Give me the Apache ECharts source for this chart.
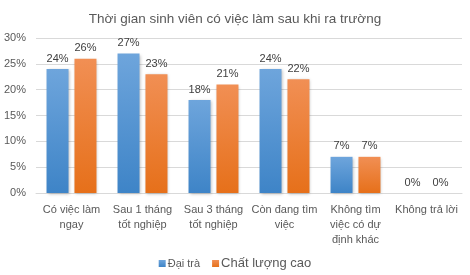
<!DOCTYPE html>
<html><head><meta charset="utf-8">
<script src="https://cdn.jsdelivr.net/npm/echarts@6/dist/echarts.min.js"></script>
<style>html,body{margin:0;padding:0;background:#fff}#c{width:470px;height:275px}</style>
</head><body><div id="c"></div>
<script>
const categories = ["Có việc làm\nngay", "Sau 1 tháng\ntốt nghiệp", "Sau 3 tháng\ntốt nghiệp", "Còn đang tìm\nviệc", "Không tìm\nviệc có dự\nđịnh khác", "Không trả lời"];
const daiTra = [24, 27, 18, 24, 7, 0];
const chatLuongCao = [26, 23, 21, 22, 7, 0];
const yTicks = [0, 5, 10, 15, 20, 25, 30];

const font = "Liberation Sans, Arial, sans-serif";
function grad(top, bottom) {
  return new echarts.graphic.LinearGradient(0, 0, 0, 1, [{offset: 0, color: top}, {offset: 1, color: bottom}]);
}
const chart = echarts.init(document.getElementById('c'), null, {renderer: 'canvas'});
chart.setOption({
  animation: false,
  title: {
    text: "Thời gian sinh viên có việc làm sau khi ra trường",
    left: 'center', top: 7,
    textStyle: {fontFamily: font, fontSize: 13.5, fontWeight: 'normal', color: '#595959'}
  },
  legend: {
    bottom: 0, left: 'center',
    itemWidth: 7, itemHeight: 7, itemGap: 12,
    icon: 'rect',
    data: ["Đại trà", "Chất lượng cao"],
    formatter: function (n) { return n === "Đại trà" ? '{s|' + n + '}' : '{b|' + n + '}'; },
    textStyle: {
      fontFamily: font, color: '#595959',
      rich: {s: {fontSize: 11, fontFamily: font, color: '#595959', padding: [0, 0, 0, -3]}, b: {fontSize: 13, fontFamily: font, color: '#595959', padding: [0, 0, 0, -3]}}
    }
  },
  grid: {left: 36, right: 8, top: 38, bottom: 82, containLabel: false},
  xAxis: {
    type: 'category', data: categories,
    axisLine: {show: true, lineStyle: {color: '#d9d9d9'}},
    axisTick: {show: false},
    axisLabel: {fontFamily: font, fontSize: 11, color: '#595959', lineHeight: 15, margin: 9, interval: 0}
  },
  yAxis: {
    type: 'value', min: yTicks[0], max: yTicks[yTicks.length - 1], interval: 5,
    axisLine: {show: false}, axisTick: {show: false},
    splitLine: {lineStyle: {color: '#d9d9d9'}},
    axisLabel: {fontFamily: font, fontSize: 11, color: '#595959', formatter: '{value}%', margin: 10}
  },
  series: [
    {
      name: "Đại trà", type: 'bar', data: daiTra, barWidth: 22, barGap: '27%',
      itemStyle: {color: grad('#6ea5dc', '#3e84c7'), shadowColor: 'rgba(0,0,0,0.25)', shadowBlur: 3, shadowOffsetX: 1, shadowOffsetY: 1},
      label: {show: true, position: 'top', distance: 5, formatter: '{c}%', fontFamily: font, fontSize: 11, color: '#404040'}
    },
    {
      name: "Chất lượng cao", type: 'bar', data: chatLuongCao, barWidth: 22,
      itemStyle: {color: grad('#f18f54', '#e6701a'), shadowColor: 'rgba(0,0,0,0.25)', shadowBlur: 3, shadowOffsetX: 1, shadowOffsetY: 1},
      label: {show: true, position: 'top', distance: 5, formatter: '{c}%', fontFamily: font, fontSize: 11, color: '#404040'}
    }
  ]
});
</script></body></html>
